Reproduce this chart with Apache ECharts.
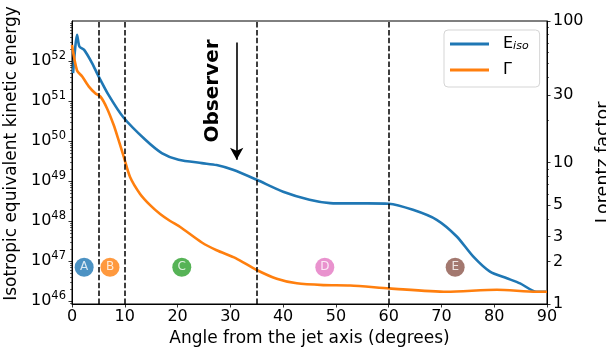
<!DOCTYPE html>
<html>
<head>
<meta charset="utf-8">
<script src="https://cdn.jsdelivr.net/npm/echarts@6/dist/echarts.min.js"></script>
<style>
html,body{margin:0;padding:0;background:#fff;}
#c{width:606px;height:348px;}
</style>
</head>
<body>
<div id="c"></div>
<script>
// ---- data ----
var eAngles = [0.2, 0.6, 0.95, 1.4, 2.3, 3.8, 4.9, 6.95, 9.8, 13.9, 17, 20.2, 24.6, 27.4, 30.5, 35, 40, 45, 48.9, 52.7, 56, 60, 64.6, 69.1, 72.9, 76, 79.2, 82.4, 84.9, 88, 90];
var eIso = [5.0e51, 2.1e52, 4.5e52, 2.3e52, 1.9e52, 8.9e51, 4.5e51, 1.4e51, 3.8e50, 1.07e50, 5.0e49, 3.4e49, 2.8e49, 2.5e49, 1.9e49, 1.07e49, 5.4e48, 3.4e48, 2.8e48, 2.75e48, 2.75e48, 2.7e48, 1.9e48, 1.07e48, 4.1e47, 1.3e47, 5.4e46, 3.7e46, 2.75e46, 1.7e46, 1.7e46];
var gAngles = [0, 0.95, 1.9, 3.2, 4.4, 5.4, 6.6, 7.9, 8.8, 9.8, 11.0, 12.9, 14.8, 16.7, 18.6, 20.5, 24.6, 27.4, 31, 35, 38.8, 42.6, 47.6, 52.7, 60.1, 71, 80.5, 88, 90];
var gamma = [67.6, 44.7, 40.7, 34.4, 30.9, 29.2, 24.3, 18.4, 14.5, 11.0, 7.9, 6.0, 5.0, 4.33, 3.86, 3.50, 2.72, 2.40, 2.11, 1.74, 1.51, 1.40, 1.36, 1.35, 1.29, 1.22, 1.26, 1.22, 1.22];
var regionLabels = ['A', 'B', 'C', 'D', 'E'];
var regionAngles = [2.3, 7.2, 20.8, 47.9, 72.6];
var regionLevel = 7e46;
var regionColors = ['#1f77b4', '#ff7f0e', '#2ca02c', '#e377c2', '#8c564b'];
var boundaryAngles = [5, 10, 35, 60];
var leftTicks = [1e46, 1e47, 1e48, 1e49, 1e50, 1e51, 1e52];
var rightTicks = [1, 2, 3, 5, 10, 30, 100];
var rightMinor = [4, 6, 7, 8, 9, 20, 40, 50, 60, 70, 80, 90];
var observerArrow = [[31.2, 2.9e52], [31.2, 3.4e49]];
var observerText = [26.7, 1.78e51];

var leftMinor = [];
for (var p = 45; p <= 52; p++) for (var m = 2; m <= 9; m++) {
  var v = m * Math.pow(10, p);
  if (v >= 8.4e45 && v <= 1e53) leftMinor.push(v);
}

var FONT = 'DejaVu Sans';
var chart = echarts.init(document.getElementById('c'), null, {renderer: 'canvas'});

function zip(a, b) { return a.map(function (x, i) { return [x, b[i]]; }); }

var commonY = {
  splitLine: {show: false},
  axisLine: {show: true, lineStyle: {color: '#000', width: 1}},
  axisTick: {show: true, inside: false, length: 3.5, lineStyle: {color: '#000', width: 0.8}},
  minorTick: {show: false}
};

var option = {
  animation: false,
  backgroundColor: '#fff',
  grid: {left: 72, right: 59, top: 21, bottom: 44, show: true, borderColor: '#000', borderWidth: 1, outerBoundsMode: 'none', containLabel: false},
  legend: {
    orient: 'vertical', left: 444, top: 30,
    itemWidth: 39, itemHeight: 3, itemGap: 10,
    icon: 'rect',
    padding: [6, 11, 9, 6],
    backgroundColor: 'rgba(255,255,255,0.85)',
    borderColor: '#d5d5d5', borderWidth: 1, borderRadius: 4,
    data: ['E_iso', 'Γ'],
    formatter: function (n) { return n === 'E_iso' ? '{b|E}{s|iso}' : '{b|Γ}'; },
    textStyle: {
      fontFamily: FONT, fontSize: 16, color: '#000', padding: [0, 0, 0, 9],
      rich: {
        b: {fontFamily: FONT, fontSize: 16, color: '#000', lineHeight: 18},
        s: {fontFamily: FONT, fontSize: 11, fontStyle: 'italic', color: '#000', lineHeight: 18, padding: [5, 0, 0, 0]}
      }
    }
  },
  xAxis: [{
    type: 'value', min: 0, max: 90, interval: 10,
    name: 'Angle from the jet axis (degrees)', nameLocation: 'middle', nameGap: 25,
    nameTextStyle: {fontFamily: FONT, fontSize: 17, color: '#000'},
    splitLine: {show: false},
    axisLine: {show: true, onZero: false, lineStyle: {color: '#000', width: 1}},
    axisTick: {show: true, inside: false, length: 3.5, lineStyle: {color: '#000', width: 0.8}},
    axisLabel: {fontFamily: FONT, fontSize: 16, color: '#000', margin: 5}
  }],
  yAxis: [
    Object.assign({}, commonY, {
      type: 'log', logBase: 10, min: 8.4e45, max: 1e53, position: 'left',
      name: 'Isotropic equivalent kinetic energy', nameLocation: 'middle', nameGap: 45, nameRotate: 90,
      nameTextStyle: {fontFamily: FONT, fontSize: 17, color: '#000', padding: [0, 0, 0, 18]},
      axisTick: Object.assign({}, commonY.axisTick, {customValues: leftTicks}),
      axisLabel: {
        customValues: leftTicks, margin: 6, fontFamily: FONT, color: '#000',
        formatter: function (v) { return '{b|10}{s|' + Math.round(Math.log10(v)) + '}'; },
        rich: {
          b: {fontFamily: FONT, fontSize: 16, color: '#000', lineHeight: 20},
          s: {fontFamily: FONT, fontSize: 11.5, color: '#000', lineHeight: 20, padding: [0, 0, 9, 0]}
        }
      }
    }),
    Object.assign({}, commonY, {
      type: 'log', logBase: 10, min: 1, max: 100, position: 'right',
      name: 'Lorentz factor', nameLocation: 'middle', nameGap: 37, nameRotate: 90,
      nameTextStyle: {fontFamily: FONT, fontSize: 17.5, color: '#000'},
      axisTick: Object.assign({}, commonY.axisTick, {customValues: rightTicks}),
      axisLabel: {customValues: rightTicks, margin: 6, fontFamily: FONT, fontSize: 16, color: '#000'}
    }),
    Object.assign({}, commonY, {
      type: 'log', logBase: 10, min: 8.4e45, max: 1e53, position: 'left',
      axisLine: {show: false},
      axisTick: {show: true, inside: false, length: 2, customValues: leftMinor, lineStyle: {color: '#000', width: 0.6}},
      axisLabel: {show: false}
    }),
    Object.assign({}, commonY, {
      type: 'log', logBase: 10, min: 1, max: 100, position: 'right',
      axisLine: {show: false},
      axisTick: {show: true, inside: false, length: 2, customValues: rightMinor, lineStyle: {color: '#000', width: 0.6}},
      axisLabel: {show: false}
    })
  ],
  series: [
    {
      name: 'E_iso', type: 'line', yAxisIndex: 0, data: zip(eAngles, eIso),
      smooth: 0.25, showSymbol: false, symbol: 'none',
      lineStyle: {color: '#1f77b4', width: 2.6}, itemStyle: {color: '#1f77b4'},
      z: 3,
      markLine: {
        silent: true, symbol: 'none', label: {show: false},
        lineStyle: {color: '#000', width: 1.5, type: [5.5, 2.4]},
        data: boundaryAngles.map(function (a) { return {xAxis: a}; })
      },
      markPoint: {
        silent: true, symbol: 'circle', symbolSize: 0,
        label: {show: true, formatter: 'Observer', rotate: 90, fontFamily: FONT, fontWeight: 'bold', fontSize: 20, color: '#000', position: 'inside'},
        data: [{coord: observerText}]
      }
    },
    {
      name: 'Γ', type: 'line', yAxisIndex: 1, data: zip(gAngles, gamma),
      smooth: 0.25, showSymbol: false, symbol: 'none',
      lineStyle: {color: '#ff7f0e', width: 2.6}, itemStyle: {color: '#ff7f0e'},
      z: 3
    },
    {
      name: 'arrow', type: 'line', yAxisIndex: 0, data: [],
      markLine: {
        silent: true, symbol: ['none', 'arrow'], symbolSize: [10, 12], label: {show: false},
        lineStyle: {color: '#000', width: 1.6, type: 'solid'},
        data: [[{coord: observerArrow[0]}, {coord: observerArrow[1]}]]
      }
    },
    {
      name: 'regions', type: 'scatter', yAxisIndex: 0, symbolSize: 19, z: 5,
      data: regionAngles.map(function (a, i) {
        return {value: [a, regionLevel], name: regionLabels[i], itemStyle: {color: regionColors[i]}};
      }),
      label: {show: true, position: 'inside', formatter: function (p) { return p.name; }, color: '#fff', fontFamily: FONT, fontSize: 12}
    }
  ]
};
chart.setOption(option);
</script>
</body>
</html>
